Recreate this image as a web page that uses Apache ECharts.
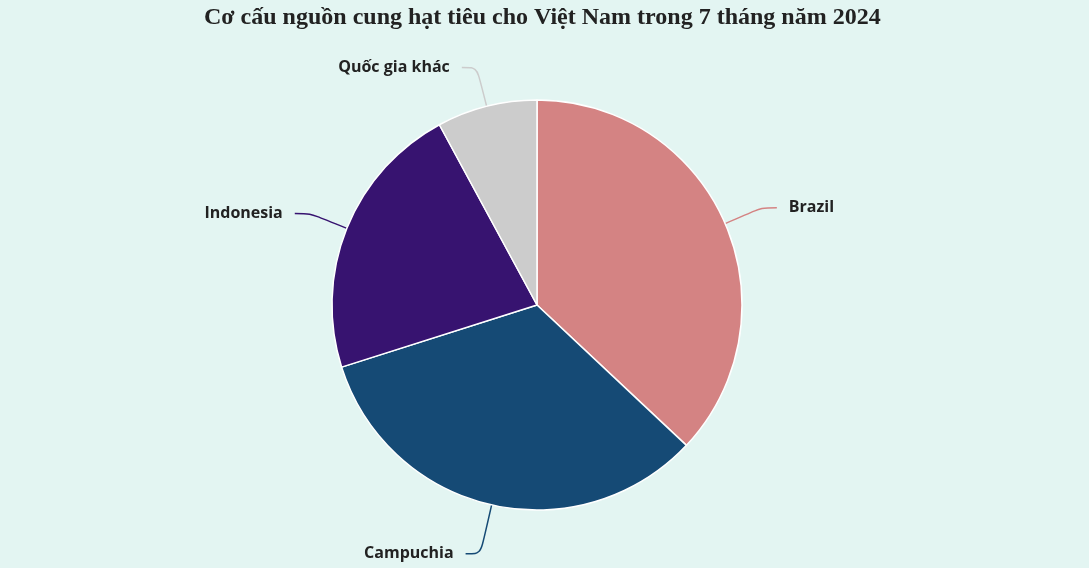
<!DOCTYPE html>
<html>
<head>
<meta charset="utf-8">
<script src="https://cdn.jsdelivr.net/npm/echarts@6/dist/echarts.min.js"></script>
<style>
  html, body { margin: 0; padding: 0; background: #e3f5f2; }
  #chart { width: 1089px; height: 568px; }
</style>
</head>
<body>
<div id="chart"></div>
<script>
const categories = ['Brazil', 'Campuchia', 'Indonesia', 'Quốc gia khác'];
const shares = [37.0, 33.1, 22.0, 7.9];
const sliceColors = ['#d48383', '#154a75', '#371370', '#cccccc'];
// label line lengths per slice (first segment)
const lineLengths = [40, 50, 40, 40];

const myChart = echarts.init(document.getElementById('chart'));

const option = {
    backgroundColor: '#e3f5f2',
    animation: false,
    title: {
        text: 'Cơ cấu nguồn cung hạt tiêu cho Việt Nam trong 7 tháng năm 2024',
        left: 199,
        top: 1,
        textStyle: {
            fontFamily: 'Liberation Serif',
            fontWeight: 'bold',
            fontSize: 24,
            color: '#222'
        }
    },
    series: [
        {
            type: 'pie',
            center: [537, 305],
            radius: 205,
            startAngle: 90,
            clockwise: true,
            data: categories.map((name, i) => ({
                name: name,
                value: shares[i],
                itemStyle: { color: sliceColors[i] },
                labelLine: { length: lineLengths[i] }
            })),
            itemStyle: {
                borderColor: '#fff',
                borderWidth: 1.5
            },
            label: {
                formatter: '{b}',
                fontFamily: 'Open Sans',
                fontWeight: 'bold',
                fontSize: 16,
                color: '#222',
                distanceToLabelLine: 12
            },
            labelLine: {
                length2: 15,
                smooth: true,
                lineStyle: { width: 1.5 }
            }
        }
    ]
};

myChart.setOption(option);
</script>
</body>
</html>
